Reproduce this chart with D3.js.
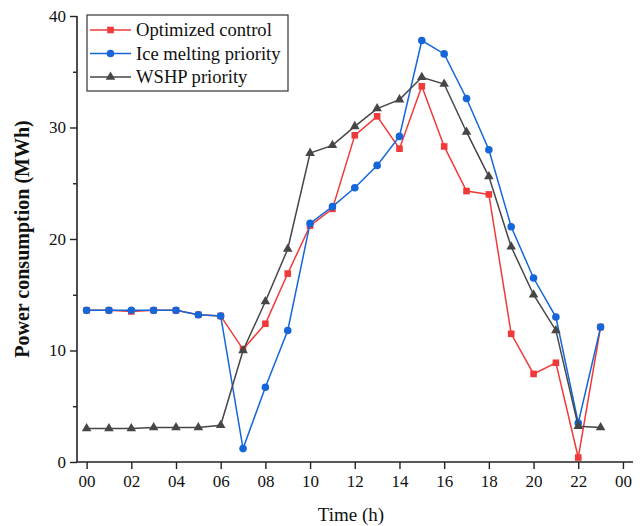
<!DOCTYPE html>
<html>
<head>
<meta charset="utf-8">
<script src="https://cdn.jsdelivr.net/npm/d3@7"></script>
<style>
  body { margin: 0; background: #fff; }
  svg text { font-family: "Liberation Serif", "Times New Roman", serif; fill: #111; }
</style>
</head>
<body>
<div id="chart"></div>
<script>
const hours = d3.range(0, 24);
const optimized = [13.6, 13.6, 13.5, 13.6, 13.6, 13.2, 13.1, 10.1, 12.4, 16.9, 21.2, 22.7, 29.3, 31.0, 28.1, 33.7, 28.3, 24.3, 24.0, 11.5, 7.9, 8.9, 0.4, 12.1];
const iceFirst = [13.6, 13.6, 13.6, 13.6, 13.6, 13.2, 13.1, 1.2, 6.7, 11.8, 21.4, 22.9, 24.6, 26.6, 29.2, 37.8, 36.6, 32.6, 28.0, 21.1, 16.5, 13.0, 3.5, 12.1];
const wshpFirst = [3.0, 3.0, 3.0, 3.1, 3.1, 3.1, 3.3, 10.0, 14.4, 19.1, 27.7, 28.4, 30.1, 31.7, 32.5, 34.5, 33.9, 29.6, 25.6, 19.3, 15.0, 11.8, 3.2, 3.1];
const xTicks = d3.range(0, 25, 2);
const yTicks = [0, 10, 20, 30, 40];
const yMinor = [5, 15, 25, 35];

const series = [
  { name: 'Optimized control', values: optimized, color: '#f03a3a', shape: 'square' },
  { name: 'Ice melting priority', values: iceFirst, color: '#1566d8', shape: 'circle' },
  { name: 'WSHP priority', values: wshpFirst, color: '#464646', shape: 'triangle' }
];

const width = 643, height = 526;
const margin = { top: 16, right: 10, bottom: 64, left: 77 };

const svg = d3.select('#chart').append('svg')
  .attr('width', width)
  .attr('height', height);

const x = d3.scaleLinear()
  .domain([-0.43, 24.45])
  .range([margin.left, width - margin.right]);

const y = d3.scaleLinear()
  .domain([0, 40])
  .range([height - margin.bottom, margin.top]);

// axes
const xAxis = svg.append('g')
  .attr('transform', `translate(0,${y(0)})`)
  .call(d3.axisBottom(x).tickValues(xTicks).tickSize(7).tickPadding(6)
    .tickFormat(d => String(d % 24).padStart(2, '0')));

const yAxis = svg.append('g')
  .attr('transform', `translate(${margin.left},0)`)
  .call(d3.axisLeft(y).tickValues(yTicks).tickSize(7).tickPadding(4));

svg.append('g')
  .attr('transform', `translate(${margin.left},0)`)
  .call(d3.axisLeft(y).tickValues(yMinor).tickSize(4).tickFormat(''))
  .select('.domain').remove();

svg.selectAll('.domain').attr('stroke', '#222').attr('stroke-width', 1.6);
svg.selectAll('.tick line').attr('stroke', '#222').attr('stroke-width', 1.4);
[xAxis, yAxis].forEach(a => a.selectAll('.tick text')
  .style('font-family', '"Liberation Serif", serif')
  .style('font-size', '17px')
  .attr('fill', '#111'));
// clean domain end caps
xAxis.select('.domain').attr('d', `M${x.range()[0]},0H${x.range()[1]}`);
yAxis.select('.domain').attr('d', `M0,${y.range()[0]}V${y.range()[1]}`);

// axis titles
svg.append('text')
  .attr('x', (margin.left + width - margin.right) / 2 - 4)
  .attr('y', 521)
  .attr('text-anchor', 'middle')
  .style('font-size', '19px')
  .text('Time (h)');

svg.append('text')
  .attr('transform', `translate(29,${(y(0) + y(40)) / 2}) rotate(-90)`)
  .attr('text-anchor', 'middle')
  .style('font-size', '20px')
  .style('font-weight', 'bold')
  .text('Power consumption (MWh)');

// lines and markers
const line = d3.line().x((d, i) => x(hours[i])).y(d => y(d));

function drawMarker(sel, shape, color) {
  if (shape === 'square') {
    sel.append('rect').attr('x', -3.3).attr('y', -3.3).attr('width', 6.6).attr('height', 6.6).attr('fill', color);
  } else if (shape === 'circle') {
    sel.append('circle').attr('r', 3.8).attr('fill', color);
  } else {
    sel.append('path').attr('d', d3.symbol(d3.symbolTriangle, 40)()).attr('fill', color);
  }
}

series.forEach(s => {
  const g = svg.append('g').attr('class', 'series');
  g.append('path')
    .datum(s.values)
    .attr('d', line)
    .attr('fill', 'none')
    .attr('stroke', s.color)
    .attr('stroke-width', 1.5);
  g.selectAll('g.marker')
    .data(s.values)
    .enter().append('g')
    .attr('class', 'marker')
    .attr('transform', (d, i) => `translate(${x(hours[i])},${y(d)})`)
    .each(function () { drawMarker(d3.select(this), s.shape, s.color); });
});

// legend
const legend = svg.append('g').attr('transform', 'translate(87,15)');
legend.append('rect')
  .attr('width', 201).attr('height', 76)
  .attr('fill', '#fff').attr('stroke', '#333').attr('stroke-width', 1.2);
series.forEach((s, i) => {
  const row = legend.append('g').attr('transform', `translate(0,${15 + i * 23.5})`);
  row.append('line').attr('x1', 3).attr('x2', 44).attr('stroke', s.color).attr('stroke-width', 1.5);
  const m = row.append('g').attr('transform', 'translate(23.5,0)');
  drawMarker(m, s.shape, s.color);
  row.append('text')
    .attr('x', 49).attr('y', 6)
    .style('font-size', '18.6px')
    .text(s.name);
});
</script>
</body>
</html>
